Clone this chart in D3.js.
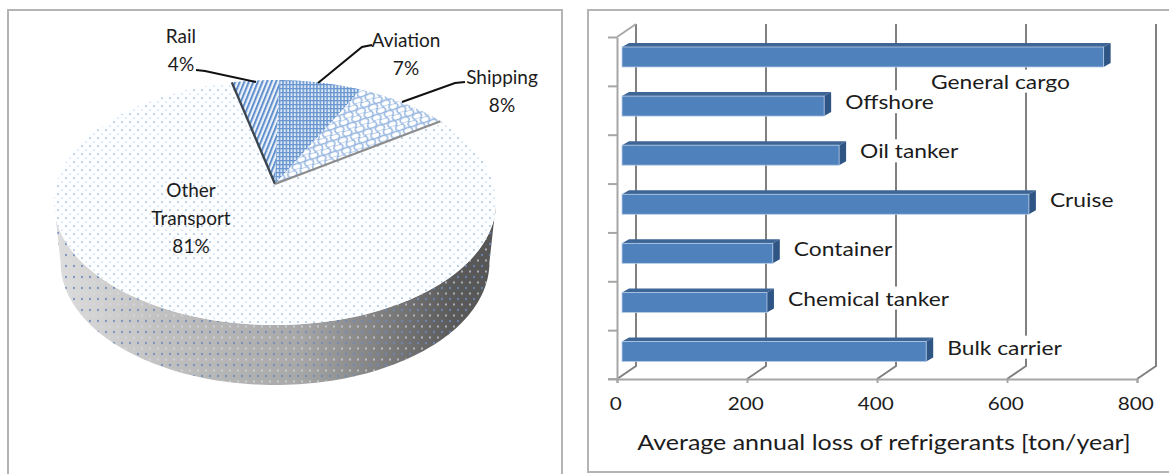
<!DOCTYPE html>
<html>
<head>
<meta charset="utf-8">
<script src="https://cdnjs.cloudflare.com/ajax/libs/d3/7.8.5/d3.min.js"></script>
<style>
  body { margin: 0; background: #fff; }
  text { font-family: Lato, "Open Sans", sans-serif; fill: #1c1c1c; }
</style>
</head>
<body>
<svg id="chart" width="1169" height="474"></svg>
<script>
// share of refrigerant loss by transport mode
const sectors = ["Rail", "Aviation", "Shipping", "Other Transport"];
const shares = [4, 7, 8, 81];

// annual loss per ship type, top bar first
const shipTypes = ["General cargo", "Offshore", "Oil tanker", "Cruise", "Container", "Chemical tanker", "Bulk carrier"];
const lossTons = [741, 311, 334, 626, 232, 223, 468];
const lossTicks = [0, 200, 400, 600, 800];

const svg = d3.select("#chart");
const defs = svg.append("defs");
const line = d3.line();

// stretch or squeeze a text horizontally, the fonts here are narrower than the drawn lettering
function stretch(sel, k) {
  sel.each(function () {
    const len = this.getComputedTextLength();
    d3.select(this).attr("textLength", len * k).attr("lengthAdjust", "spacingAndGlyphs");
  });
}

// frames, both run off the page
svg.append("path").attr("d", line([[8, 474], [8, 10], [562, 10], [562, 474]]))
  .attr("fill", "none").attr("stroke", "#b4b4b4").attr("stroke-width", 2);
svg.append("path").attr("d", line([[1169, 10], [588, 10], [588, 472], [1169, 472]]))
  .attr("fill", "none").attr("stroke", "#b4b4b4").attr("stroke-width", 2);

// ---- patterns ----
function pattern(id, w, h, transform) {
  const p = defs.append("pattern").attr("id", id).attr("patternUnits", "userSpaceOnUse")
    .attr("width", w).attr("height", h);
  if (transform) p.attr("patternTransform", transform);
  return p;
}

const dots = pattern("dotsTop", 8, 8);
dots.append("rect").attr("width", 8).attr("height", 8).attr("fill", "#fdfeff");
dots.append("circle").attr("cx", 2).attr("cy", 2).attr("r", 0.85).attr("fill", "#85a6d4");
dots.append("circle").attr("cx", 6).attr("cy", 6).attr("r", 0.85).attr("fill", "#c8d7ec");

const sideDots = pattern("dotsSide", 8, 11);
sideDots.append("ellipse").attr("cx", 2).attr("cy", 2).attr("rx", 0.9).attr("ry", 1.3).attr("fill", "#6a8abc");
sideDots.append("ellipse").attr("cx", 6).attr("cy", 7.5).attr("rx", 0.9).attr("ry", 1.3).attr("fill", "#d8dde6").attr("fill-opacity", 0.7);

const stripes = pattern("stripes", 4.2, 4.2, "rotate(22)");
stripes.append("rect").attr("width", 4.2).attr("height", 4.2).attr("fill", "#eef3fa");
stripes.append("rect").attr("width", 2).attr("height", 4.2).attr("fill", "#5f8fcc");

const grid = pattern("grid", 3.4, 4);
grid.append("rect").attr("width", 3.4).attr("height", 4).attr("fill", "#dfe9f6");
grid.append("rect").attr("width", 1.5).attr("height", 4).attr("fill", "#6a97d0");
grid.append("rect").attr("width", 3.4).attr("height", 1.3).attr("fill", "#6a97d0");

// staggered shingles for the shipping slice
const scales = pattern("scales", 13, 11, "rotate(-18)");
scales.append("rect").attr("width", 13).attr("height", 11).attr("fill", "#ffffff");
[[3.25, 2.75], [9.75, 8.25], [-3.25, 8.25], [16.25, 2.75]].forEach(c => {
  scales.append("ellipse").attr("cx", c[0]).attr("cy", c[1]).attr("rx", 4.6).attr("ry", 3.1)
    .attr("fill", "none").attr("stroke", "#93b4df").attr("stroke-width", 1.5);
});

const sideShade = defs.append("linearGradient").attr("id", "sideShade")
  .attr("gradientUnits", "userSpaceOnUse").attr("x1", 54).attr("x2", 497).attr("y1", 0).attr("y2", 0);
sideShade.append("stop").attr("offset", "0").attr("stop-color", "#dedede");
sideShade.append("stop").attr("offset", "0.25").attr("stop-color", "#c0c0c0");
sideShade.append("stop").attr("offset", "0.55").attr("stop-color", "#a8a8a8");
sideShade.append("stop").attr("offset", "0.75").attr("stop-color", "#7d7d7d");
sideShade.append("stop").attr("offset", "0.9").attr("stop-color", "#5a5a5a");
sideShade.append("stop").attr("offset", "1").attr("stop-color", "#555555");

// ---- pie ----
const pieCx = 275, pieCy = 184, pieRx = 218.5, pieRy = 119.7, tilt = 0.151, pieDepth = 60, floorScale = 0.97;

// unit disc to the screen, the far side shrinks a little
function project(angle, r) {
  const u = r * Math.sin(angle), v = r * Math.cos(angle), w = 1 + tilt * v;
  return [pieCx + pieRx * u / w, pieCy - pieRy * v / w];
}

function arcPoints(a0, a1) {
  return d3.range(0, 1.0001, 1 / 120).map(t => project(a0 + (a1 - a0) * t, 1));
}

const slices = d3.pie().sort(null).startAngle(-0.2286).endAngle(-0.2286 + 2 * Math.PI)(shares);
const fills = ["url(#stripes)", "url(#grid)", "url(#scales)", "url(#dotsTop)"];

// side wall between the front rim and the same rim on the floor
const rim = arcPoints(Math.PI / 2 + tilt, 3 * Math.PI / 2 - tilt);
const floor = rim.slice().reverse().map(p => [pieCx + (p[0] - pieCx) * floorScale, p[1] + pieDepth]);
const wall = rim.concat(floor);
svg.append("path").attr("d", line(wall) + "Z").attr("fill", "url(#sideShade)");
svg.append("path").attr("d", line(wall) + "Z").attr("fill", "url(#dotsSide)");

const pieG = svg.append("g");
pieG.selectAll("path").data(slices).join("path")
  .attr("d", d => line([[pieCx, pieCy]].concat(arcPoints(d.startAngle, d.endAngle))) + "Z")
  .attr("fill", (d, i) => fills[i]);

// cut walls of the lifted wedge
const railEdge = project(slices[0].startAngle, 1);
const shipEdge = project(slices[2].endAngle, 1);
svg.append("path").attr("d", line([railEdge, [pieCx, pieCy]]))
  .attr("stroke", "#3b4650").attr("stroke-width", 2.4).attr("fill", "none");
svg.append("path").attr("d", line([[pieCx, pieCy], shipEdge]))
  .attr("stroke", "#8c8c8c").attr("stroke-width", 2).attr("fill", "none");

// leader lines
const leaderLines = [
  [[196, 70], [205, 71], [256, 82]],
  [[372, 45], [362, 47], [318, 83]],
  [[465, 82], [455, 83], [402, 102]]
];
svg.append("g").selectAll("path").data(leaderLines).join("path")
  .attr("d", line).attr("fill", "none").attr("stroke", "#111").attr("stroke-width", 2);

const pieLabels = [
  { lines: [sectors[0], shares[0] + "%"], x: 181, y: 36 },
  { lines: [sectors[1], shares[1] + "%"], x: 406, y: 40 },
  { lines: [sectors[2], shares[2] + "%"], x: 502, y: 77 },
  { lines: ["Other", "Transport", shares[3] + "%"], x: 191, y: 190 }
];
pieLabels.forEach(l => {
  l.lines.forEach((s, i) => {
    svg.append("text").attr("x", l.x).attr("y", l.y + i * 28)
      .attr("dy", "0.35em").attr("text-anchor", "middle")
      .style("font-size", "20px").text(s).call(stretch, 0.95);
  });
});

// ---- bars ----
const x0 = 617, yTop = 37, yBottom = 379, backDx = 19, backDy = -13;
const x = d3.scaleLinear().domain([0, 800]).range([x0, x0 + 520]);
const yAxisScale = d3.scaleLinear().domain([0, 7]).range([yBottom, yTop]);
const yBar = d3.scalePoint().domain(shipTypes).range([57, 351.5]);
const barH = 20, barInset = 5, barDx = 7, barDy = -4;

const gridG = svg.append("g").attr("fill", "none");
gridG.selectAll("path.grid").data(lossTicks).join("path").attr("class", "grid")
  .attr("d", d => line([[x(d), yBottom], [x(d) + backDx, yBottom + backDy], [x(d) + backDx, yTop + backDy]]))
  .attr("stroke", "#808080").attr("stroke-width", 2);
gridG.append("path")
  .attr("d", line([[x0, yTop], [x0 + backDx, yTop + backDy]]))
  .attr("stroke", "#a6a6a6").attr("stroke-width", 1.8);

// value axis along the floor
const xAxis = svg.append("g").attr("transform", `translate(0,${yBottom})`)
  .call(d3.axisBottom(x).tickValues(lossTicks).tickSize(4).tickPadding(14).tickFormat(d3.format("d")));
xAxis.select(".domain").attr("stroke", "#a6a6a6").attr("stroke-width", 2);
xAxis.selectAll("line").attr("stroke", "#a6a6a6").attr("stroke-width", 2);
xAxis.selectAll("text").attr("dx", "-0.1em").style("font-size", "18px").attr("fill", "#1c1c1c").call(stretch, 1.15);
svg.append("path").attr("d", line([[608, yBottom], [x0, yBottom]])).attr("stroke", "#a6a6a6").attr("stroke-width", 2);

// category axis, ticks between the bars
const yAxis = svg.append("g").attr("transform", `translate(${x0},0)`)
  .call(d3.axisLeft(yAxisScale).ticks(7).tickSize(9).tickSizeOuter(0).tickFormat(""));
yAxis.select(".domain").attr("stroke", "#a6a6a6").attr("stroke-width", 2);
yAxis.selectAll("line").attr("stroke", "#a6a6a6").attr("stroke-width", 2);

const barData = shipTypes.map((name, i) => ({ name, value: lossTons[i] }));

// general cargo sits under its bar instead of past its end
function labelX(d) {
  return d.name === "General cargo" ? 931 : x(d.value) + barInset + barDx + 14;
}
function labelY(d) {
  return d.name === "General cargo" ? yBar(d.name) + 25 : yBar(d.name) - 3.5;
}

const labelG = svg.append("g");
const labels = labelG.selectAll("text").data(barData).join("text")
  .attr("x", labelX).attr("y", labelY).attr("dy", "0.35em")
  .style("font-size", "19px").text(d => d.name).call(stretch, 1.2);
labels.each(function () {
  const b = this.getBBox();
  labelG.insert("rect", "text").attr("x", b.x - 2).attr("y", b.y).attr("width", b.width + 4).attr("height", b.height)
    .attr("fill", "#fff");
});

const bars = svg.append("g").selectAll("g").data(barData).join("g");
function barEnd(d) { return x(d.value) + barInset; }
function barStart() { return x(0) + barInset; }
bars.append("path").attr("fill", "#3d6596")
  .attr("d", d => {
    const t = yBar(d.name) - barH / 2;
    return line([[barStart(), t], [barStart() + barDx, t + barDy], [barEnd(d) + barDx, t + barDy], [barEnd(d), t]]) + "Z";
  });
bars.append("path").attr("fill", "#2f5584")
  .attr("d", d => {
    const t = yBar(d.name) - barH / 2;
    return line([[barEnd(d), t], [barEnd(d) + barDx, t + barDy], [barEnd(d) + barDx, t + barDy + barH], [barEnd(d), t + barH]]) + "Z";
  });
bars.append("rect").attr("fill", "#4f81bd")
  .attr("stroke", "#b4cbe6").attr("stroke-width", 0.8)
  .attr("x", barStart).attr("y", d => yBar(d.name) - barH / 2)
  .attr("width", d => barEnd(d) - barStart()).attr("height", barH);

svg.append("text").attr("x", 884).attr("y", 443).attr("dy", "0.35em").attr("text-anchor", "middle")
  .style("font-size", "21px").text("Average annual loss of refrigerants [ton/year]").call(stretch, 1.19);
</script>
</body>
</html>
